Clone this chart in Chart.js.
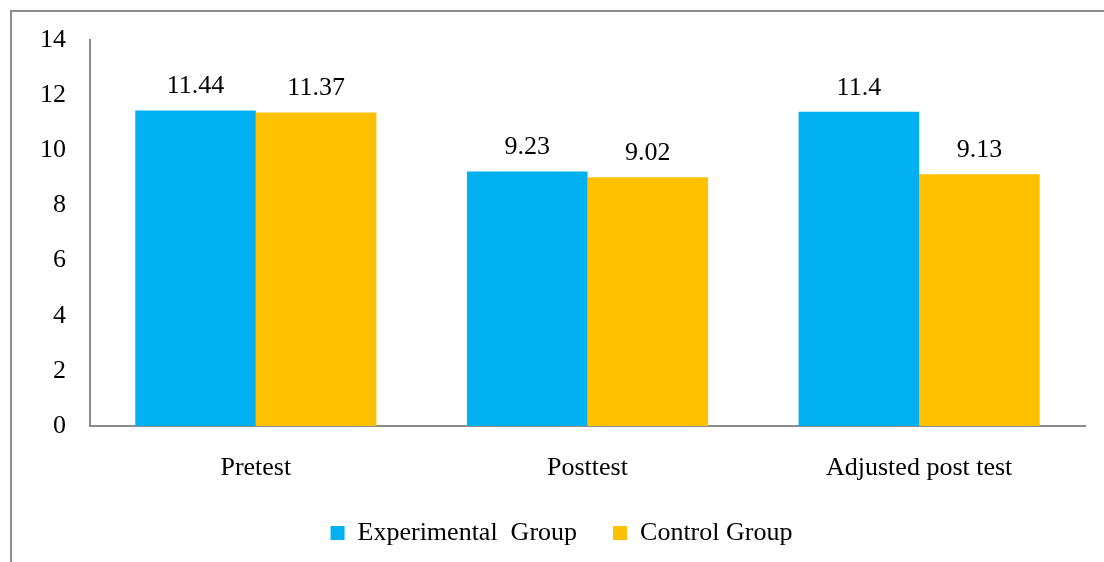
<!DOCTYPE html>
<html>
<head>
<meta charset="utf-8">
<script src="https://cdn.jsdelivr.net/npm/chart.js@4.4.0/dist/chart.umd.min.js"></script>
<style>
  html, body { margin: 0; padding: 0; background: #fff; overflow: hidden; }
  #wrap { position: absolute; left: 0; top: 0; width: 1104px; height: 562px; }
  #frame { position: absolute; left: 10px; top: 10px; width: 1200px; height: 700px;
           border-left: 2px solid #8c8c8c; border-top: 2px solid #8c8c8c; }
  canvas { position: absolute; left: 0; top: 0; }
</style>
</head>
<body>
<div id="wrap">
  <div id="frame"></div>
  <canvas id="bar_chart" width="1104" height="562"></canvas>
</div>
<script>
var categories = ['Pretest', 'Posttest', 'Adjusted post test'];
var experimental = [11.44, 9.23, 11.4];
var control = [11.37, 9.02, 9.13];
var yTicks = [0, 2, 4, 6, 8, 10, 12, 14];

var FONT = '"Liberation Serif", "Times New Roman", serif';

// value labels over each bar
var valueLabels = {
    id: 'valueLabels',
    afterDatasetsDraw: function(chart) {
        var ctx = chart.ctx;
        ctx.save();
        ctx.font = '26px ' + FONT;
        ctx.fillStyle = '#000';
        ctx.textAlign = 'center';
        ctx.textBaseline = 'middle';
        chart.data.datasets.forEach(function(ds, i) {
            chart.getDatasetMeta(i).data.forEach(function(bar, j) {
                ctx.fillText(String(ds.data[j]), bar.x, bar.y - 24);
            });
        });
        ctx.restore();
    }
};

var ctx = document.getElementById('bar_chart').getContext('2d');
const bar_chart = new Chart(ctx, {
    type: 'bar',
    data: {
        labels: categories,
        datasets: [
            {
                // trailing spaces widen the gap to the next legend item
                label: 'Experimental  Group    ',
                data: experimental,
                backgroundColor: '#00B0F0',
                borderWidth: 0
            },
            {
                label: 'Control Group',
                data: control,
                backgroundColor: '#FFC000',
                borderWidth: 0
            }
        ]
    },
    options: {
        responsive: false,
        animation: false,
        layout: {
            padding: { left: 38, right: 19, top: 40, bottom: 6 }
        },
        datasets: {
            bar: { barPercentage: 1, categoryPercentage: 0.727 }
        },
        plugins: {
            tooltip: { enabled: false },
            legend: {
                position: 'bottom',
                labels: {
                    boxWidth: 14,
                    boxHeight: 14,
                    padding: 10,
                    color: '#000',
                    font: { family: FONT, size: 26 }
                }
            }
        },
        scales: {
            x: {
                afterFit: function(scale) { scale.height = 84; },
                grid: { display: false, drawTicks: false },
                border: { display: true, color: '#8c8c8c', width: 2 },
                ticks: {
                    color: '#000',
                    padding: 27,
                    font: { family: FONT, size: 26 }
                }
            },
            y: {
                min: 0,
                max: 14,
                afterFit: function(scale) { scale.width = 90 - 38; },
                afterBuildTicks: function(scale) {
                    scale.ticks = yTicks.map(function(v) { return { value: v }; });
                },
                grid: { display: false, drawTicks: false },
                border: { display: true, color: '#8c8c8c', width: 2 },
                ticks: {
                    color: '#000',
                    padding: 24,
                    font: { family: FONT, size: 26 }
                }
            }
        }
    },
    plugins: [valueLabels]
});
</script>
</body>
</html>
